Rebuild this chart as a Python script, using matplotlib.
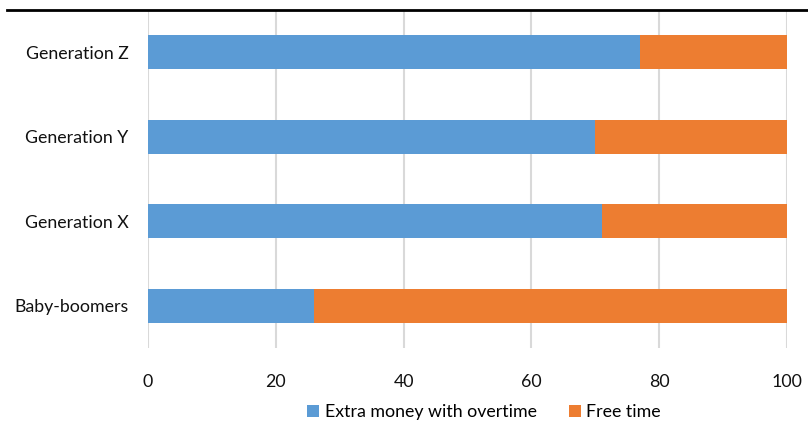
import matplotlib
matplotlib.use("Agg")
import matplotlib.pyplot as plt
from matplotlib.lines import Line2D

categories = ["Generation Z", "Generation Y", "Generation X", "Baby-boomers"]
extra_money = [77, 70, 71, 26]
free_time = [23, 30, 29, 74]
series_names = ["Extra money with overtime", "Free time"]
xticks = [0, 20, 40, 60, 80, 100]

plt.rcParams['font.family'] = ['Lato', 'DejaVu Sans']
W, H = 808, 425
fig = plt.figure(figsize=(W/100, H/100), dpi=100)
ax = fig.add_axes([148/W, 1-348/H, (787-148)/W, (348-10)/H])

ypos = list(range(len(categories)))[::-1]
ax.barh(ypos, extra_money, height=0.4, color='#5B9BD5', label=series_names[0], zorder=3)
ax.barh(ypos, free_time, left=extra_money, height=0.4, color='#ED7D31', label=series_names[1], zorder=3)

ax.set_xlim(0, 100)
ax.set_ylim(-0.5, len(categories)-0.5)
ax.set_xticks(xticks)
ax.set_xticklabels([str(t) for t in xticks])
ax.set_yticks(ypos)
ax.set_yticklabels(categories)
ax.tick_params(axis='x', length=0, pad=19, labelsize=12.8, colors='#111111')
ax.tick_params(axis='y', length=0, pad=14, labelsize=12.8, colors='#111111')
for s in ax.spines.values():
    s.set_visible(False)
ax.grid(axis='x', color='#D9D9D9', linewidth=1.5, zorder=0)
ax.set_axisbelow(True)

fig.add_artist(Line2D([7/W, 1], [1-10/H, 1-10/H], color='black', linewidth=2, transform=fig.transFigure))

fig.legend(loc='center', bbox_to_anchor=(484/W, 1-412/H), ncol=2, frameon=False,
           fontsize=12.8, handlelength=0.7, handleheight=0.7, handletextpad=0.3,
           columnspacing=1.8, borderaxespad=0)

fig.savefig('out.png', dpi=100)
